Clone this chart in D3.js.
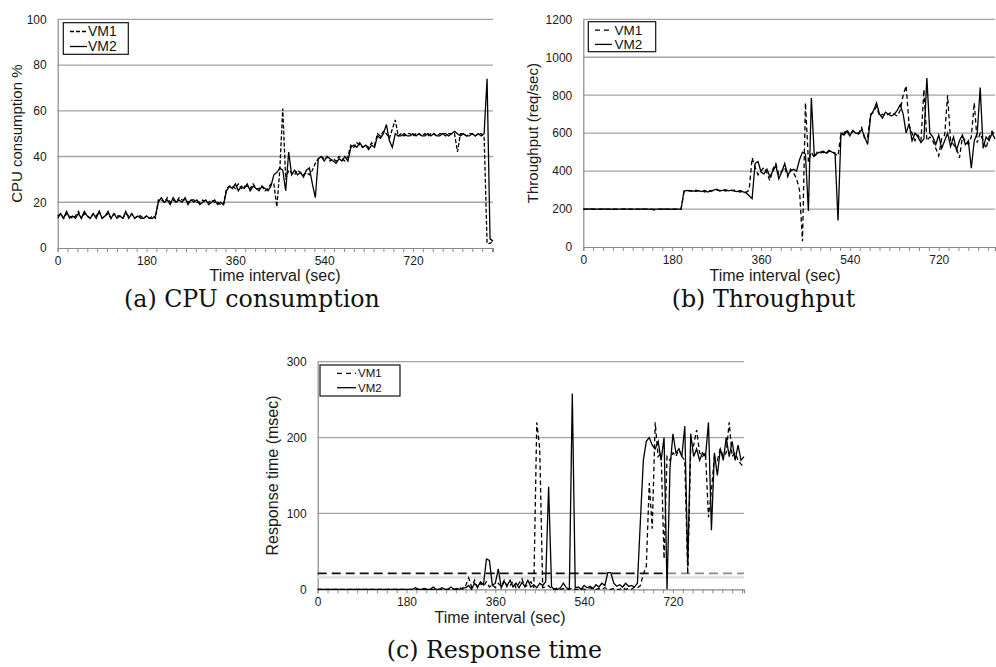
<!DOCTYPE html>
<html>
<head>
<meta charset="utf-8">
<script src="https://cdn.jsdelivr.net/npm/d3@7"></script>
<style>
  body { margin: 0; background: #fff; }
  svg { display: block; }
</style>
</head>
<body>
<svg id="fig" width="996" height="667"></svg>
<script>
// Sampling interval of every series (seconds between consecutive points)
const STEP = 6;

// Axis tick labels
const timeTicks = [0, 180, 360, 540, 720];
const cpuTicks = [0, 20, 40, 60, 80, 100];
const thrTicks = [0, 200, 400, 600, 800, 1000, 1200];
const rtTicks = [0, 100, 200, 300];
const seriesNames = ["VM1", "VM2"];

// (a) CPU consumption %, one value per STEP seconds
const cpuVM1 = [
  14,15,13,15,14,13,14,16,13,15,14,13,15,14,16,13,14,15,13,15,14,14,13,15,14,15,13,14,14,13,14,13,14,13,
  21,21,20,22,20,21,20,22,21,21,20,21,21,20,20,21,20,20,21,20,20,19,19,
  26,27,27,26,28,26,27,27,26,28,26,26,27,25,26,28,
  28,18,34,61,30,34,33,32,34,33,32,33,32,34,37,39,40,
  39,40,38,39,38,40,39,38,40,
  45,44,46,45,44,45,44,46,45,
  50,49,51,50,48,52,56,49,
  50,49,50,50,49,50,50,49,50,49,50,50,49,50,50,49,50,50,50,42,50,50,49,50,50,49,50,50,49,
  2,2,3
];
const cpuVM2 = [
  13,15,13,16,13,14,13,15,13,16,14,13,15,13,16,13,14,16,13,15,13,14,13,16,13,15,13,14,13,13,14,13,13,14,
  20,22,20,21,19,22,20,21,20,22,19,21,20,21,19,20,21,19,20,21,19,20,19,
  25,27,26,28,25,27,26,28,25,27,26,25,27,26,25,27,
  32,33,35,34,25,42,32,34,32,33,31,34,35,28,22,39,40,
  38,40,39,38,37,39,38,40,38,
  44,45,44,46,44,45,43,45,44,
  49,48,50,54,47,44,50,49,
  49,50,49,49,50,49,50,49,49,50,49,50,49,49,50,50,49,50,51,50,49,50,49,49,50,49,50,49,50,
  74,4,3
];

// (b) Throughput (req/sec)
const thrVM1 = [
  200,200,200,201,200,200,199,200,200,200,201,200,200,200,200,199,200,200,200,200,200,200,200,200,195,200,200,195,200,200,200,200,200,200,
  292,296,298,293,300,295,296,290,299,294,297,300,298,302,295,299,297,300,294,290,295,288,
  300,470,420,
  380,400,420,390,350,410,440,380,400,420,370,410,390,360,
  300,30,760,450,500,470,
  500,495,500,490,505,500,
  490,480,600,
  600,620,590,610,605,600,630,570,580,
  700,710,740,690,700,690,700,710,700,690,720,800,
  850,640,600,560,590,560,830,
  560,580,
  560,520,480,570,590,800,560,540,520,470,580,560,540,580,760,550,600,560,520,580,610,590
];
const thrVM2 = [
  200,200,201,200,199,200,200,201,200,200,199,200,200,200,201,200,199,200,200,200,201,200,200,199,200,200,200,201,200,200,199,200,200,200,
  295,298,294,296,293,297,292,298,290,296,300,305,295,298,302,296,300,295,292,298,290,285,
  270,255,
  440,450,395,385,410,370,400,430,360,395,440,380,400,410,400,
  460,500,490,190,785,480,
  495,500,505,495,510,500,
  495,140,600,
  590,610,585,615,600,595,620,580,540,
  690,720,760,700,680,710,700,690,700,720,750,700,
  600,650,560,600,580,550,570,
  890,600,
  580,540,590,520,560,600,530,580,510,560,590,540,560,415,560,600,840,520,580,560,600,570
];

// (c) Response time (msec)
const rtVM1 = [
  0,0,0,0,0,0,0,0,0,0, 0,0,0,0,0,0,0,0,0,0, 0,0,0,0,0,0,0,0,0,0, 0,0,0,0,0,0,0,0,0,0, 0,0,0,0,0,0,0,0,2,0,
  5,15,3,12,2,8,4,10,3,6,2,8,4,12,3,5,10,2,8,14,3,6,10,
  2,220,185,2,3,5,
  0,0,2,0,1,0,0,2,0,0, 1,0,0,2,0,0,1,0,2,0, 0,1,0,0,2,0,1,0,3,2,
  5,20,30,140,80,220,175,180,40,175,170,180,175,185,175,170,20,185,190,210,180,175,180,95,130,175,170,185,175,180,220,175,180,170,165,160
];
const rtVM2 = [
  0,0,0,0,0,0,0,0,0,0, 0,0,0,0,0,0,0,0,0,0, 0,0,0,0,0,0,0,0,0,0, 0,0,0,2,0,0,1,0,0,3, 0,0,2,0,0,3,0,1,0,2,
  2,5,0,8,3,10,6,
  40,38,5,8,27,2,10,5,12,3,8,2,9,4,12,3,6,2,8,5,10,135,3,0,0,2,8,2,0,
  258,2,
  3,0,5,2,4,1,6,3,8,5,
  22,22,8,4,6,3,8,4,5,3,8,
  90,170,195,200,190,185,195,170,200,0,160,205,180,185,175,215,30,205,175,185,170,180,175,220,78,180,150,185,170,200,175,195,170,190,170,175
];
// Response-time target drawn across panel (c)
const rtTarget = 21;

// ---- drawing ----
const svg = d3.select("#fig");
const SANS = "Liberation Sans, Arial, sans-serif";
const SERIF = "DejaVu Serif, serif";
const GRID = "#a3a3a3";
const AXIS = "#8a8a8a";

const panels = [
  { box: { l: 57.7, r: 493, t: 19.3, b: 248 }, xMax: 882, yMax: 100, yTicks: cpuTicks,
    vm1: cpuVM1, vm2: cpuVM2, dash: "4,2", legendDash: "4,2",
    yTitle: "CPU consumption %", yTitleX: 17, yTitleSize: 15,
    xTitleY: 281, xTitleX: 275, caption: "(a) CPU consumption", capX: 124, capY: 307,
    legend: { x: 63.3, y: 22.7, w: 65, h: 31.6, lx1: 70, lx2: 87, tx: 88, y1: 31.5, y2: 46.5, size: 14 } },
  { box: { l: 583.3, r: 995, t: 19.3, b: 247 }, xMax: 834, yMax: 1200, yTicks: thrTicks,
    vm1: thrVM1, vm2: thrVM2, dash: "4.5,3", legendDash: "5,4",
    yTitle: "Throughput (req/sec)", yTitleX: 533, yTitleSize: 15,
    xTitleY: 281, xTitleX: 775, caption: "(b) Throughput", capX: 671.7, capY: 307,
    legend: { x: 588.3, y: 21.7, w: 67.4, h: 30, lx1: 595, lx2: 612, tx: 614.5, y1: 30.2, y2: 44.4, size: 13.5 } },
  { box: { l: 317.7, r: 744, t: 361.7, b: 589.3 }, xMax: 864, yMax: 300, yTicks: rtTicks,
    vm1: rtVM1, vm2: rtVM2, dash: "4.5,3", legendDash: "5,4",
    yTitle: "Response time (msec)", yTitleX: 272, yTitleSize: 16,
    xTitleY: 622.5, xTitleX: 500, caption: "(c) Response time", capX: 386.7, capY: 658,
    legend: { x: 320, y: 365, w: 80, h: 31, lx1: 337, lx2: 356, tx: 358, y1: 373.3, y2: 387.7, size: 11.5 } }
];

// caption size: fit "(a) CPU consumption" to its measured width
const probe = svg.append("text").attr("font-family", SERIF).attr("font-size", 20).text(panels[0].caption);
const capSize = 20 * 256 / probe.node().getComputedTextLength();
probe.remove();

panels.forEach((p, k) => {
  const x = d3.scaleLinear().domain([0, p.xMax]).range([p.box.l, p.box.r]);
  const y = d3.scaleLinear().domain([0, p.yMax]).range([p.box.b, p.box.t]);
  const g = svg.append("g");

  // horizontal gridlines
  g.append("g").selectAll("line").data(p.yTicks.filter(v => v > 0)).join("line")
    .attr("x1", p.box.l).attr("x2", p.box.r)
    .attr("y1", d => y(d)).attr("y2", d => y(d))
    .attr("stroke", GRID).attr("stroke-width", 1.3);

  // y axis
  g.append("g").attr("transform", `translate(${p.box.l},0)`)
    .call(d3.axisLeft(y).tickValues(p.yTicks).tickSize(0).tickPadding(11).tickFormat(d3.format("d")))
    .attr("font-family", SANS).attr("font-size", 12)
    .call(s => s.select(".domain").attr("stroke", AXIS).attr("stroke-width", 1.2))
    .call(s => s.selectAll("text").attr("fill", "#1a1a1a"));

  // x axis: small ticks every 20 s, labels every 180 s
  g.append("g").attr("transform", `translate(0,${p.box.b})`)
    .call(d3.axisBottom(x).tickValues(d3.range(0, p.xMax + 1, 20)).tickSize(4).tickFormat(""))
    .call(s => s.select(".domain").attr("stroke", AXIS).attr("stroke-width", 1.2))
    .call(s => s.selectAll(".tick line").attr("stroke", AXIS));
  g.append("g").attr("transform", `translate(0,${p.box.b})`)
    .call(d3.axisBottom(x).tickValues(timeTicks).tickSize(0).tickPadding(8))
    .attr("font-family", SANS).attr("font-size", 12)
    .call(s => s.select(".domain").remove())
    .call(s => s.selectAll("text").attr("fill", "#1a1a1a"));

  // axis titles
  g.append("text")
    .attr("x", p.xTitleX).attr("y", p.xTitleY)
    .attr("text-anchor", "middle").attr("font-family", SANS).attr("font-size", 16).attr("fill", "#1a1a1a")
    .text("Time interval (sec)");
  g.append("text")
    .attr("transform", `translate(${p.yTitleX},${(p.box.t + p.box.b) / 2}) rotate(-90)`)
    .attr("text-anchor", "middle").attr("dy", "0.35em")
    .attr("font-family", SANS).attr("font-size", p.yTitleSize).attr("fill", "#1a1a1a")
    .text(p.yTitle);

  // response-time target line
  if (k === 2) {
    const split = 708;
    g.append("line").attr("x1", x(0)).attr("x2", x(p.xMax))
      .attr("y1", y(rtTarget) + 4).attr("y2", y(rtTarget) + 4)
      .attr("stroke", "#e2e2e2").attr("stroke-width", 3);
    g.append("line").attr("x1", x(0)).attr("x2", x(split))
      .attr("y1", y(rtTarget)).attr("y2", y(rtTarget))
      .attr("stroke", "#111").attr("stroke-width", 1.6).attr("stroke-dasharray", "9,5");
    g.append("line").attr("x1", x(split)).attr("x2", x(p.xMax))
      .attr("y1", y(rtTarget)).attr("y2", y(rtTarget))
      .attr("stroke", "#8c8c8c").attr("stroke-width", 1.8).attr("stroke-dasharray", "9,5");
  }

  // series
  const line = d3.line().x((d, i) => x(i * STEP)).y(d => y(d));
  g.append("path").datum(p.vm1).attr("d", line)
    .attr("fill", "none").attr("stroke", "#000").attr("stroke-width", 1.3)
    .attr("stroke-dasharray", p.dash);
  g.append("path").datum(p.vm2).attr("d", line)
    .attr("fill", "none").attr("stroke", "#000").attr("stroke-width", 1.3);

  // legend
  const L = p.legend;
  const lg = g.append("g");
  lg.append("rect").attr("x", L.x).attr("y", L.y).attr("width", L.w).attr("height", L.h)
    .attr("fill", "#fff").attr("stroke", "#111").attr("stroke-width", 1.2);
  seriesNames.forEach((name, j) => {
    const yy = j === 0 ? L.y1 : L.y2;
    lg.append("line").attr("x1", L.lx1).attr("x2", L.lx2).attr("y1", yy).attr("y2", yy)
      .attr("stroke", "#000").attr("stroke-width", 1.3)
      .attr("stroke-dasharray", j === 0 ? p.legendDash : null);
    lg.append("text").attr("x", L.tx).attr("y", yy).attr("dy", "0.35em")
      .attr("font-family", SANS).attr("font-size", L.size).attr("fill", "#111").text(name);
  });

  // caption
  svg.append("text").attr("x", p.capX).attr("y", p.capY)
    .attr("font-family", SERIF).attr("font-size", capSize).attr("fill", "#111")
    .text(p.caption);
});
</script>
</body>
</html>
